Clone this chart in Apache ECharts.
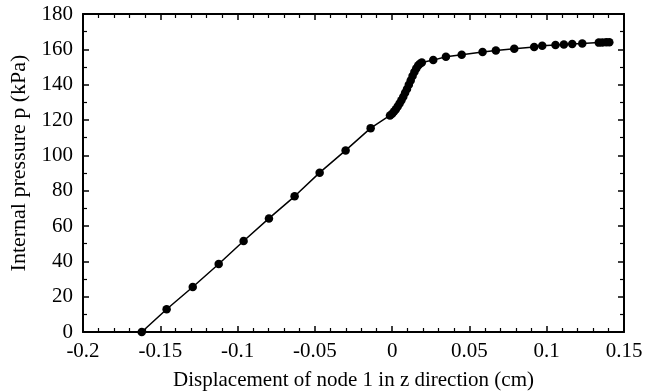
<!DOCTYPE html>
<html>
<head>
<meta charset="utf-8">
<script src="https://cdn.jsdelivr.net/npm/echarts@6/dist/echarts.min.js"></script>
<style>
  html, body { margin: 0; padding: 0; background: #fff; }
  #chart { width: 656px; height: 392px; }
</style>
</head>
<body>
<div id="chart"></div>
<script>
  // displacement of node 1 (cm) and internal pressure (kPa)
  const dispZ = [
    -0.1620, -0.1459, -0.1290, -0.1122, -0.0961, -0.0797, -0.0631, -0.0469, -0.0301, -0.0139,
    -0.0014, 0.0000, 0.0012, 0.0024, 0.0036, 0.0048, 0.0060, 0.0072, 0.0084, 0.0096,
    0.0108, 0.0120, 0.0132, 0.0144, 0.0156, 0.0168, 0.0180, 0.0192,
    0.0266, 0.0348, 0.0450, 0.0585, 0.0671, 0.0790, 0.0919, 0.0971, 0.1057, 0.1111,
    0.1165, 0.1230, 0.1337, 0.1360, 0.1385, 0.1405
  ];
  const pressure = [
    0, 12.9, 25.5, 38.5, 51.5, 64.3, 76.8, 90.2, 102.8, 115.4,
    122.6, 123.5, 124.8, 126.1, 127.6, 129.3, 131.2, 133.2, 135.4, 137.6,
    140.0, 142.4, 144.9, 147.2, 149.2, 150.8, 151.8, 152.6,
    153.9, 155.8, 156.9, 158.5, 159.4, 160.3, 161.3, 162.0, 162.5, 162.8,
    163.0, 163.3, 163.8, 163.9, 164.0, 164.0
  ];
  const xTicks = ['-0.2', '-0.15', '-0.1', '-0.05', '0', '0.05', '0.1', '0.15'];

  const font = 'Liberation Serif';
  const points = dispZ.map((x, i) => [x, pressure[i]]);

  const tick = { show: true, inside: true, length: 6, lineStyle: { color: '#000', width: 1.5 } };
  const minor = { show: true, splitNumber: 5, length: 4, lineStyle: { color: '#000', width: 1.2 } };
  const minorY = { show: true, splitNumber: 2, length: 4, lineStyle: { color: '#000', width: 1.2 } };
  const axisLine = { show: true, onZero: false, lineStyle: { color: '#000', width: 2 } };

  const chart = echarts.init(document.getElementById('chart'));
  chart.setOption({
    animation: false,
    backgroundColor: '#fff',
    grid: { left: 83, right: 32, top: 14, bottom: 60, containLabel: false, outerBoundsMode: 'none' },
    xAxis: [{
      type: 'value', min: -0.2, max: 0.15, interval: 0.05,
      axisLine: axisLine, axisTick: tick, minorTick: minor, splitLine: { show: false },
      axisLabel: {
        color: '#000', fontFamily: font, fontSize: 21, margin: 9,
        formatter: v => xTicks[Math.round((v + 0.2) / 0.05)]
      },
      name: 'Displacement of node 1 in z direction (cm)', nameLocation: 'middle', nameGap: 38,
      nameTextStyle: { color: '#000', fontFamily: font, fontSize: 21 }
    }, {
      type: 'value', position: 'top', min: -0.2, max: 0.15, interval: 0.05,
      axisLine: axisLine, axisTick: tick, minorTick: minor, splitLine: { show: false },
      axisLabel: { show: false }
    }],
    yAxis: [{
      type: 'value', min: 0, max: 180, interval: 20,
      axisLine: axisLine, axisTick: tick, minorTick: minorY, splitLine: { show: false },
      axisLabel: { color: '#000', fontFamily: font, fontSize: 21, margin: 10 },
      name: 'Internal pressure p (kPa)', nameLocation: 'middle', nameGap: 46,
      nameTextStyle: { color: '#000', fontFamily: font, fontSize: 22, padding: [0, 0, 0, 20] }
    }, {
      type: 'value', position: 'right', min: 0, max: 180, interval: 20,
      axisLine: axisLine, axisTick: tick, minorTick: minorY, splitLine: { show: false },
      axisLabel: { show: false }
    }],
    series: [{
      type: 'line',
      data: points,
      symbol: 'circle',
      symbolSize: 8.5,
      itemStyle: { color: '#000' },
      lineStyle: { color: '#000', width: 1.5 }
    }]
  });
</script>
</body>
</html>
